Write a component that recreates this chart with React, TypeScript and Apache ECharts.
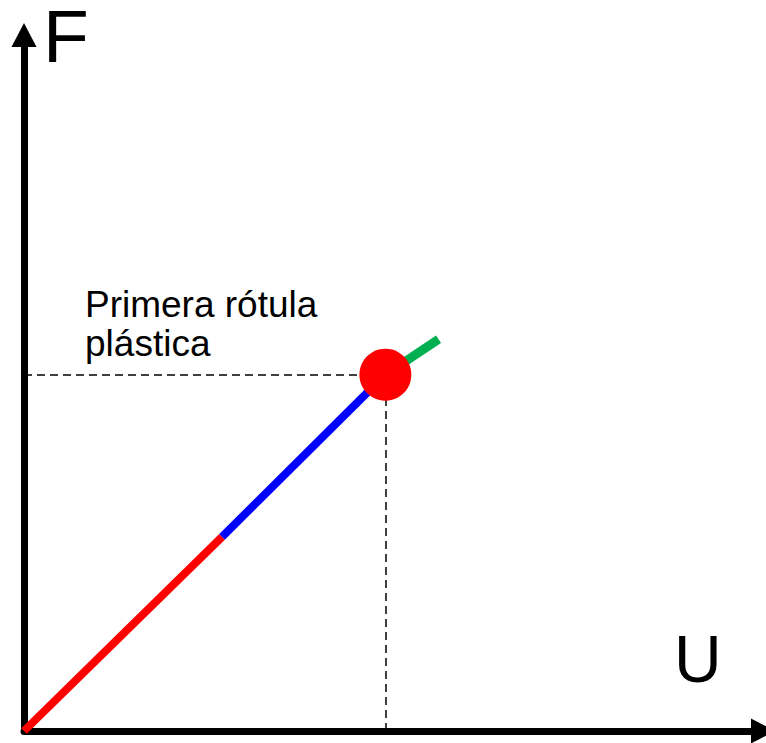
import React, { useEffect, useRef } from "react";
import * as echarts from "echarts";

// Curva fuerza–desplazamiento (F–U), unidades arbitrarias
const tramoInicial: [number, number][] = [
  [0, 0],
  [2.68, 2.79],
];
const tramoElastico: [number, number][] = [
  [2.68, 2.79],
  [4.89, 5.12],
];
const tramoPlastico: [number, number][] = [
  [4.89, 5.12],
  [5.61, 5.63],
];
const primeraRotula: [number, number] = [4.89, 5.12];

const ejeMaxU = 10;
const ejeMaxF = 10;

const nombreEjeU = "U";
const nombreEjeF = "F";
const etiquetaRotula = "Primera rótula\nplástica";

const FONT = '"Liberation Sans", Arial, sans-serif';

export default function App() {
  const ref = useRef<HTMLDivElement>(null);

  useEffect(() => {
    if (!ref.current) return;
    const chart = echarts.init(ref.current, undefined, { renderer: "svg" });

    const axisLine = {
      show: true,
      symbol: ["none", "triangle"],
      symbolSize: [25, 24],
      lineStyle: { color: "#000", width: 7 },
    };

    const lineSeries = (data: [number, number][], color: string, width: number, z: number) => ({
      type: "line",
      data,
      symbol: "none",
      z,
      lineStyle: { color, width, cap: "butt" },
      silent: true,
    });

    chart.setOption({
      animation: false,
      backgroundColor: "#fff",
      grid: { left: 24, right: 3, top: 35, bottom: 12 },
      xAxis: {
        type: "value",
        min: 0,
        max: ejeMaxU,
        axisLine,
        axisTick: { show: false },
        axisLabel: { show: false },
        splitLine: { show: false },
      },
      yAxis: {
        type: "value",
        min: 0,
        max: ejeMaxF,
        axisLine,
        axisTick: { show: false },
        axisLabel: { show: false },
        splitLine: { show: false },
      },
      series: [
        {
          ...lineSeries(tramoInicial, "#ff0000", 8, 3),
          markLine: {
            silent: true,
            symbol: ["none", "none"],
            label: { show: false },
            lineStyle: { color: "#000", type: [8, 5], width: 1.5 },
            data: [
              [{ coord: [0, primeraRotula[1]] }, { coord: [primeraRotula[0], primeraRotula[1]] }],
              [{ coord: [primeraRotula[0], 0] }, { coord: [primeraRotula[0], primeraRotula[1]] }],
            ],
          },
        },
        lineSeries(tramoElastico, "#0000ff", 8, 3),
        lineSeries(tramoPlastico, "#00b050", 9, 3),
        {
          type: "scatter",
          data: [primeraRotula],
          symbol: "circle",
          symbolSize: 52,
          z: 6,
          itemStyle: { color: "#ff0000", opacity: 1 },
          silent: true,
        },
      ],
      graphic: [
        {
          type: "text",
          x: 43,
          y: 36,
          style: {
            text: nombreEjeF,
            font: `75px ${FONT}`,
            lineHeight: 68,
            fill: "#000",
            align: "left",
            verticalAlign: "middle",
          },
        },
        {
          type: "text",
          x: 674,
          y: 659,
          style: { text: nombreEjeU, font: `66px ${FONT}`, fill: "#000", align: "left", verticalAlign: "middle" },
        },
        {
          type: "text",
          x: 85,
          y: 324,
          style: {
            text: etiquetaRotula,
            font: `37px ${FONT}`,
            lineHeight: 39,
            fill: "#000",
            align: "left",
            verticalAlign: "middle",
          },
        },
      ],
    });

    return () => chart.dispose();
  }, []);

  return (
    <div
      ref={ref}
      style={{ position: "absolute", left: 0, top: 0, width: 766, height: 743 }}
    />
  );
}
